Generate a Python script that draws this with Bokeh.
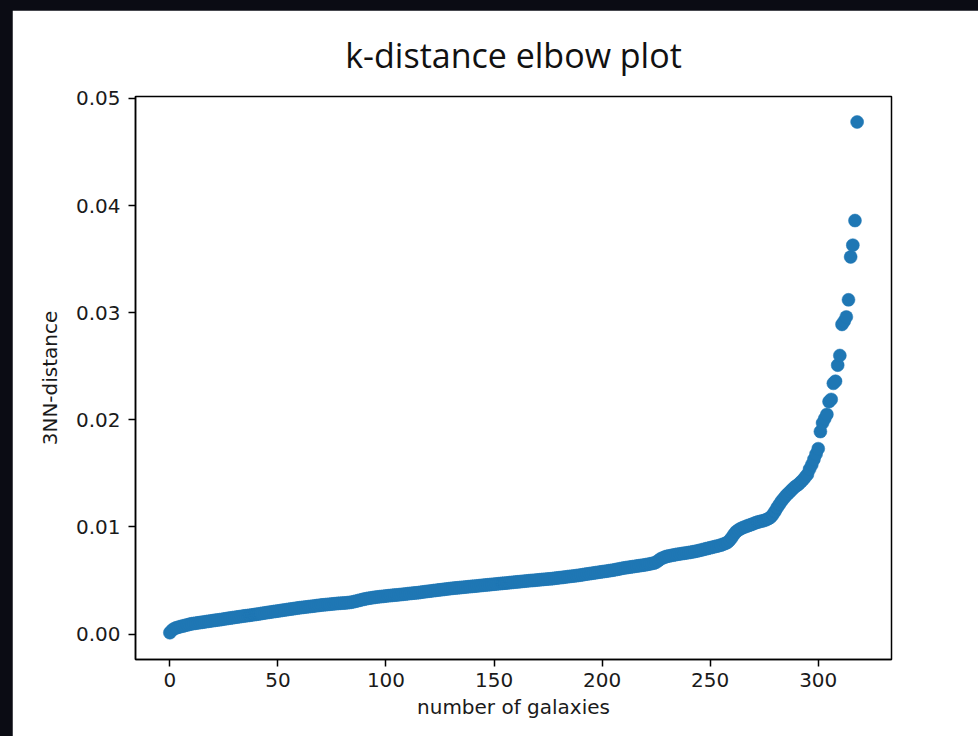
from bokeh.plotting import figure
from bokeh.models import Range1d, FixedTicker, NumeralTickFormatter, ColumnDataSource
from bokeh.embed import file_html
from bokeh.resources import INLINE

# Sorted 3rd-nearest-neighbour distance for each galaxy
kdist = [
    0.00012, 0.00035, 0.00050, 0.00058, 0.00064, 0.00070, 0.00074, 0.00080, 0.00085, 0.00090, 0.00095,
    0.00098, 0.00101, 0.00104, 0.00107, 0.00110, 0.00113, 0.00116, 0.00119, 0.00122, 0.00125,
    0.00128, 0.00131, 0.00133, 0.00136, 0.00140, 0.00143, 0.00146, 0.00149, 0.00152, 0.00155,
    0.00158, 0.00161, 0.00164, 0.00167, 0.00170, 0.00172, 0.00175, 0.00178, 0.00181, 0.00184,
    0.00187, 0.00190, 0.00194, 0.00197, 0.00200, 0.00203, 0.00206, 0.00209, 0.00212, 0.00215,
    0.00218, 0.00221, 0.00224, 0.00227, 0.00230, 0.00233, 0.00236, 0.00239, 0.00242, 0.00245,
    0.00247, 0.00250, 0.00252, 0.00255, 0.00257, 0.00260, 0.00262, 0.00265, 0.00267, 0.00270,
    0.00272, 0.00274, 0.00276, 0.00278, 0.00280, 0.00282, 0.00284, 0.00286, 0.00287, 0.00289,
    0.00290, 0.00292, 0.00294, 0.00297, 0.00301, 0.00306, 0.00311, 0.00316, 0.00321, 0.00326,
    0.00330, 0.00334, 0.00337, 0.00340, 0.00343, 0.00346, 0.00348, 0.00350, 0.00352, 0.00355,
    0.00357, 0.00359, 0.00361, 0.00363, 0.00365, 0.00367, 0.00369, 0.00371, 0.00373, 0.00376,
    0.00378, 0.00380, 0.00382, 0.00384, 0.00386, 0.00389, 0.00392, 0.00395, 0.00397, 0.00400,
    0.00402, 0.00405, 0.00407, 0.00410, 0.00412, 0.00415, 0.00417, 0.00420, 0.00422, 0.00425,
    0.00427, 0.00429, 0.00431, 0.00433, 0.00435, 0.00437, 0.00439, 0.00441, 0.00443, 0.00445,
    0.00447, 0.00449, 0.00451, 0.00453, 0.00455, 0.00457, 0.00459, 0.00461, 0.00463, 0.00465,
    0.00467, 0.00469, 0.00471, 0.00473, 0.00475, 0.00477, 0.00479, 0.00481, 0.00483, 0.00485,
    0.00487, 0.00489, 0.00491, 0.00493, 0.00495, 0.00497, 0.00499, 0.00500, 0.00502, 0.00504,
    0.00506, 0.00508, 0.00510, 0.00512, 0.00514, 0.00515, 0.00517, 0.00520, 0.00522, 0.00525,
    0.00527, 0.00529, 0.00532, 0.00535, 0.00537, 0.00540, 0.00542, 0.00545, 0.00547, 0.00550,
    0.00553, 0.00557, 0.00560, 0.00563, 0.00566, 0.00569, 0.00572, 0.00575, 0.00578, 0.00581,
    0.00584, 0.00587, 0.00590, 0.00593, 0.00596, 0.00600, 0.00604, 0.00608, 0.00612, 0.00616,
    0.00619, 0.00622, 0.00625, 0.00628, 0.00631, 0.00634, 0.00637, 0.00640, 0.00643, 0.00646,
    0.00650, 0.00654, 0.00658, 0.00662, 0.00670, 0.00685, 0.00700, 0.00710, 0.00718, 0.00725,
    0.00729, 0.00733, 0.00737, 0.00741, 0.00745, 0.00748, 0.00751, 0.00754, 0.00757, 0.00760,
    0.00763, 0.00767, 0.00771, 0.00775, 0.00780, 0.00785, 0.00790, 0.00795, 0.00800, 0.00805,
    0.00810, 0.00815, 0.00820, 0.00825, 0.00830, 0.00838, 0.00846, 0.00855, 0.00875, 0.00900,
    0.00930, 0.00955, 0.00970, 0.00982, 0.00992, 0.01000, 0.01008, 0.01015, 0.01022, 0.01030,
    0.01038, 0.01045, 0.01050, 0.01055, 0.01060, 0.01068, 0.01078, 0.01090, 0.01115, 0.01145,
    0.01180, 0.01210, 0.01240, 0.01265, 0.01290, 0.01310, 0.01330, 0.01350, 0.01370, 0.01385,
    0.01400, 0.01420, 0.01440, 0.01465, 0.01490, 0.01540, 0.01580, 0.01630, 0.01680,
    0.01730, 0.01890, 0.01970, 0.02010, 0.02050, 0.02170, 0.02190, 0.02340, 0.02360, 0.02510,
    0.02600, 0.02890, 0.02920, 0.02960, 0.03120, 0.03520, 0.03630, 0.03860, 0.04780,
]
galaxy_index = list(range(len(kdist)))

x_ticks = [0, 50, 100, 150, 200, 250, 300]
y_ticks = [0.0, 0.01, 0.02, 0.03, 0.04, 0.05]

source = ColumnDataSource(data=dict(n=galaxy_index, d=kdist))

p = figure(
    width=966, height=726,
    output_backend="svg", toolbar_location=None,
    x_range=Range1d(-15.9, 333.9),
    y_range=Range1d(-0.00238, 0.05018),
    min_border_left=123, min_border_right=87,
    min_border_top=86, min_border_bottom=77,
    title="k-distance elbow plot",
)
p.margin = (10, 0, 0, 12)
p.background_fill_color = "white"
p.border_fill_color = "white"
p.outline_line_color = "black"
p.outline_line_width = 1.5
p.outline_line_alpha = 1.0

p.title.text_font = "Open Sans"
p.title.text_font_size = "34px"
p.title.text_font_style = "normal"
p.title.text_color = "#111111"
p.title.align = "center"
p.title.standoff = 38

p.xgrid.visible = False
p.ygrid.visible = False

p.scatter("n", "d", source=source, size=13, marker="circle",
          fill_color="#1f77b4", line_color="#1f77b4", line_width=0.5)

for ax in (p.xaxis[0], p.yaxis[0]):
    ax.axis_line_color = "black"
    ax.axis_line_width = 1.5
    ax.major_tick_line_color = "black"
    ax.major_tick_line_width = 1.5
    ax.major_tick_out = 7
    ax.major_tick_in = 0
    ax.minor_tick_line_color = None
    ax.major_label_text_font = "DejaVu Sans"
    ax.major_label_text_font_size = "20px"
    ax.major_label_text_color = "#1a1a1a"
    ax.axis_label_text_font = "DejaVu Sans"
    ax.axis_label_text_font_size = "20px"
    ax.axis_label_text_font_style = "normal"
    ax.axis_label_text_color = "#1a1a1a"

p.xaxis.ticker = FixedTicker(ticks=x_ticks)
p.yaxis.ticker = FixedTicker(ticks=y_ticks)
p.yaxis.formatter = NumeralTickFormatter(format="0.00")
p.xaxis.axis_label = "number of galaxies"
p.yaxis.axis_label = "3NN-distance"
p.xaxis.major_label_standoff = 6
p.yaxis.major_label_standoff = 8
p.xaxis.axis_label_standoff = 5
p.yaxis.axis_label_standoff = 11

html = file_html(p, INLINE)
html = html.replace(
    "<head>",
    "<head><style>html,body{background:#0b0c14;margin:0;padding:0;}</style>",
    1,
)
with open("out.html", "w") as f:
    f.write(html)
